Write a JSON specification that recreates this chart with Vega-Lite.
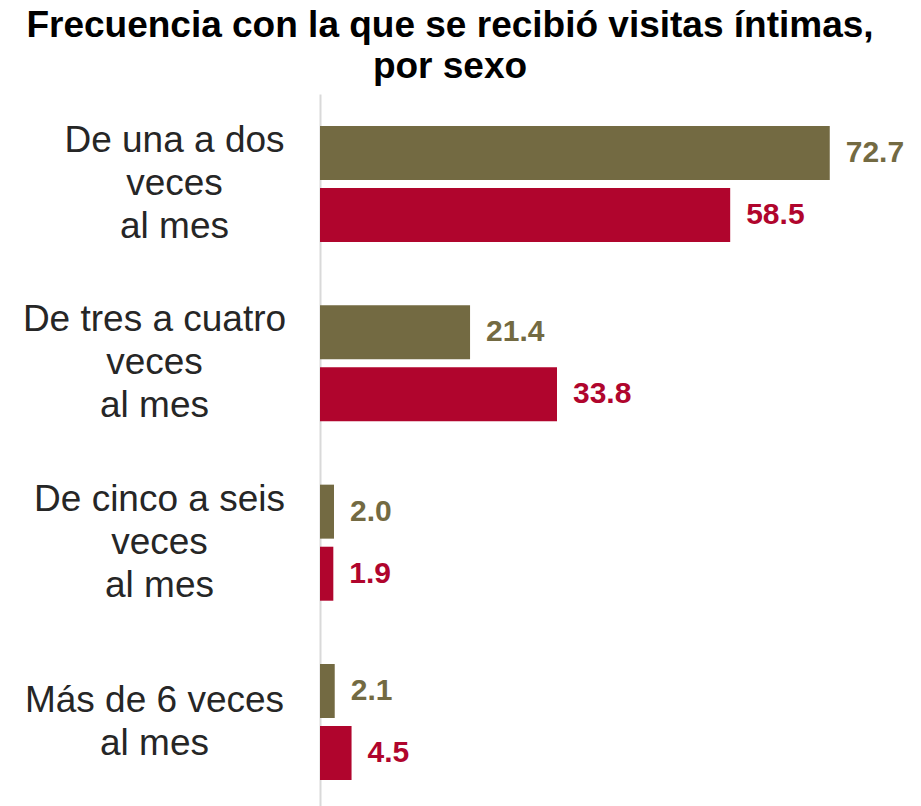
{
  "$schema": "https://vega.github.io/schema/vega-lite/v6.json",
  "autosize": "none",
  "width": 596,
  "height": 718,
  "padding": {"left": 320, "top": 94, "right": 5, "bottom": 0},
  "background": "white",
  "title": {
    "text": ["Frecuencia con la que se recibió visitas íntimas,", "por sexo"],
    "font": "Liberation Sans",
    "fontSize": 37,
    "fontWeight": "bold",
    "color": "#000000",
    "lineHeight": 41,
    "anchor": "middle",
    "frame": "group",
    "dx": -168,
    "offset": 8
  },
  "data": {
    "values": [
      {"frecuencia": "De una a dos veces al mes", "sexo": "Hombres", "porcentaje": 72.7},
      {"frecuencia": "De una a dos veces al mes", "sexo": "Mujeres", "porcentaje": 58.5},
      {"frecuencia": "De tres a cuatro veces al mes", "sexo": "Hombres", "porcentaje": 21.4},
      {"frecuencia": "De tres a cuatro veces al mes", "sexo": "Mujeres", "porcentaje": 33.8},
      {"frecuencia": "De cinco a seis veces al mes", "sexo": "Hombres", "porcentaje": 2.0},
      {"frecuencia": "De cinco a seis veces al mes", "sexo": "Mujeres", "porcentaje": 1.9},
      {"frecuencia": "Más de 6 veces al mes", "sexo": "Hombres", "porcentaje": 2.1},
      {"frecuencia": "Más de 6 veces al mes", "sexo": "Mujeres", "porcentaje": 4.5}
    ]
  },
  "encoding": {
    "y": {
      "field": "frecuencia",
      "type": "nominal",
      "sort": null,
      "scale": {"paddingInner": 0.353, "paddingOuter": 0.178},
      "axis": {
        "title": null,
        "ticks": false,
        "domain": true,
        "domainColor": "#D9D9D9",
        "domainWidth": 2,
        "labelFont": "Liberation Sans",
        "labelFontSize": 37,
        "labelColor": "#262626",
        "labelLineHeight": 43,
        "labelAlign": "center",
        "labelBaseline": "middle",
        "labelLimit": 0,
        "labelPadding": {"condition": [
          {"test": "datum.value === 'De una a dos veces al mes'", "value": 146},
          {"test": "datum.value === 'De cinco a seis veces al mes'", "value": 161}
        ], "value": 166},
        "labelOffset": {"condition": {"test": "datum.value === 'Más de 6 veces al mes'", "value": -21.5}, "value": -43},
        "labelExpr": "datum.label === 'Más de 6 veces al mes' ? ['Más de 6 veces', 'al mes'] : [replace(datum.label, ' veces al mes', ''), 'veces', 'al mes']"
      }
    },
    "yOffset": {
      "field": "sexo",
      "type": "nominal",
      "sort": ["Hombres", "Mujeres"],
      "scale": {"paddingInner": 0.13, "paddingOuter": 0}
    },
    "x": {
      "field": "porcentaje",
      "type": "quantitative",
      "scale": {"domain": [0, 85], "nice": false},
      "axis": null
    },
    "color": {
      "field": "sexo",
      "type": "nominal",
      "scale": {"domain": ["Hombres", "Mujeres"], "range": ["#736A42", "#B0052D"]},
      "legend": null
    }
  },
  "layer": [
    {"mark": {"type": "bar", "cornerRadius": 0}},
    {
      "mark": {
        "type": "text",
        "align": "left",
        "baseline": "middle",
        "dx": 16,
        "font": "Liberation Sans",
        "fontSize": 30,
        "fontWeight": "bold"
      },
      "encoding": {
        "text": {"field": "porcentaje", "type": "quantitative", "format": ".1f"}
      }
    }
  ],
  "config": {"view": {"stroke": null}}
}
